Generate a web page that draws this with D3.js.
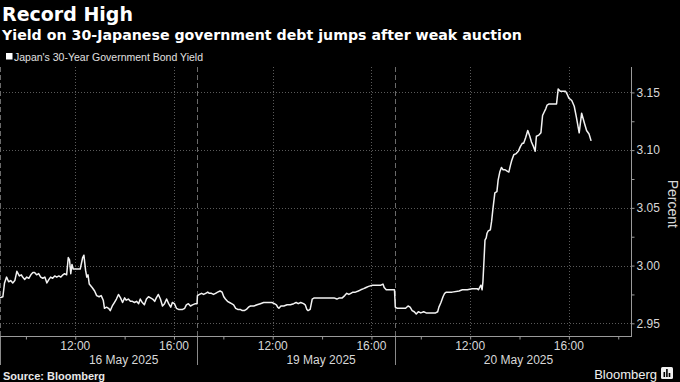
<!DOCTYPE html>
<html><head><meta charset="utf-8">
<script src="https://cdn.jsdelivr.net/npm/d3@7"></script>
<style>html,body{margin:0;padding:0;background:#000}svg{display:block}</style>
</head><body>
<svg id="chart" width="680" height="382"></svg>
<script>
// ---------- DATA ----------
const dayLabels = ["16 May 2025", "19 May 2025", "20 May 2025"];
const yTickValues = [2.95, 3.00, 3.05, 3.10, 3.15];
const yMinorValues = [2.975, 3.025, 3.075, 3.125];
const xMajorTimes = ["12:00", "16:00"];
const xMinorTimes = ["10:00", "14:00", "18:00"];

const day1Times = ["8:57","9:04","9:08","9:13","9:18","9:23","9:28","9:33","9:38","9:41","9:44","9:49","9:52","9:57","10:02","10:07","10:12","10:17","10:21","10:26","10:31","10:36","10:41","10:46","10:51","10:56","11:00","11:05","11:10","11:15","11:20","11:25","11:30","11:34","11:39","11:43","11:46","11:49","11:52","11:55","12:12","12:18","12:21","12:25","12:28","12:31","12:34","12:41","12:47","12:52","12:58","13:03","13:08","13:11","13:16","13:21","13:25","13:30","13:35","13:40","13:45","13:50","13:55","14:00","14:04","14:09","14:14","14:19","14:24","14:29","14:34","14:38","14:43","14:48","14:53","14:58","15:03","15:08","15:13","15:17","15:22","15:27","15:32","15:37","15:42","15:47","15:52","15:56","16:01","16:06","16:11","16:16","16:21","16:26","16:30","16:35","16:40","16:45","16:52","16:56"];
const day1Yields = [2.972,2.973,2.985,2.990,2.986,2.987,2.985,2.987,2.995,2.993,2.991,2.992,2.990,2.988,2.990,2.989,2.992,2.994,2.994,2.992,2.993,2.990,2.989,2.990,2.985,2.988,2.990,2.989,2.991,2.990,2.991,2.990,2.992,2.993,2.992,3.007,3.005,2.993,3.001,2.997,2.997,3.007,3.009,2.996,2.990,2.992,2.984,2.981,2.978,2.974,2.973,2.974,2.970,2.963,2.964,2.963,2.961,2.965,2.968,2.971,2.975,2.972,2.968,2.972,2.970,2.971,2.969,2.969,2.968,2.969,2.967,2.971,2.968,2.966,2.971,2.973,2.972,2.971,2.969,2.972,2.975,2.971,2.965,2.967,2.971,2.967,2.964,2.968,2.967,2.963,2.962,2.962,2.962,2.963,2.966,2.967,2.965,2.966,2.967,2.967];

const day2Times = ["8:57","9:02","9:07","9:12","9:17","9:22","9:26","9:31","9:36","9:41","9:46","9:52","9:57","10:01","10:05","10:10","10:15","10:20","10:25","10:30","10:35","10:41","10:46","10:51","10:56","11:01","11:06","11:14","11:22","11:30","11:38","11:58","12:04","12:09","12:12","12:15","12:20","12:27","12:35","12:43","12:51","12:57","13:02","13:08","13:15","13:19","13:23","13:26","13:31","13:36","13:41","14:16","14:23","14:29","14:36","14:42","14:49","14:55","15:00","15:05","15:10","15:15","15:21","15:28","15:34","15:41","15:47","15:53","16:03","16:13","16:23","16:28","16:31","16:36","16:42","16:50","16:56"];
const day2Yields = [2.974,2.975,2.976,2.975,2.976,2.977,2.976,2.976,2.975,2.976,2.977,2.978,2.977,2.973,2.971,2.969,2.968,2.967,2.966,2.963,2.962,2.962,2.961,2.961,2.962,2.964,2.965,2.965,2.966,2.967,2.968,2.968,2.967,2.966,2.964,2.963,2.965,2.965,2.966,2.966,2.967,2.968,2.967,2.968,2.967,2.966,2.962,2.961,2.962,2.971,2.972,2.972,2.972,2.972,2.971,2.972,2.972,2.974,2.976,2.975,2.976,2.977,2.977,2.978,2.979,2.980,2.981,2.982,2.983,2.983,2.983,2.984,2.981,2.979,2.979,2.979,2.979];

const day3Times = ["8:58","9:03","9:10","9:16","9:23","9:29","9:34","9:39","9:44","9:49","9:54","10:00","10:07","10:13","10:20","10:28","10:36","10:41","10:44","10:49","10:54","10:58","11:02","11:16","11:33","11:41","11:53","12:05","12:17","12:20","12:23","12:26","12:29","12:31","12:34","12:36","12:39","12:41","12:44","12:49","12:52","12:55","13:00","13:05","13:08","13:12","13:16","13:20","13:25","13:29","13:34","13:38","13:41","13:46","13:52","13:57","14:02","14:07","14:10","14:15","14:20","14:25","14:29","14:34","14:38","14:41","14:47","14:52","14:56","15:00","15:04","15:07","15:12","15:30","15:34","15:39","15:44","15:52","15:55","16:00","16:07","16:13","16:18","16:25","16:31","16:38","16:43","16:49","16:54"];
const day3Yields = [2.964,2.963,2.963,2.963,2.963,2.965,2.964,2.961,2.960,2.958,2.960,2.959,2.960,2.959,2.959,2.959,2.959,2.960,2.964,2.968,2.973,2.976,2.977,2.977,2.978,2.979,2.979,2.980,2.980,2.979,2.981,2.983,2.979,2.986,3.007,3.022,3.024,3.028,3.030,3.031,3.038,3.048,3.063,3.064,3.074,3.081,3.085,3.083,3.083,3.082,3.081,3.087,3.091,3.096,3.097,3.099,3.103,3.106,3.106,3.111,3.117,3.112,3.107,3.103,3.099,3.112,3.113,3.115,3.130,3.133,3.136,3.139,3.140,3.140,3.153,3.151,3.151,3.151,3.149,3.145,3.143,3.138,3.129,3.115,3.132,3.123,3.117,3.114,3.108];

// ---------- LAYOUT ----------
const W = 680, H = 382;
const plot = {left: 0, right: 631, top: 67, bottom: 336};
const sessionStart = "8:57", sessionMinutes = 480, lastDayEnd = "18:31";

const toMin = s => { const [h, m] = s.split(":").map(Number); return h * 60 + m; };
const offset = (dayIdx, t) => dayIdx * sessionMinutes + toMin(t) - toMin(sessionStart);

const series = [];
[[day1Times, day1Yields], [day2Times, day2Yields], [day3Times, day3Yields]].forEach(([ts, ys], d) => {
  ts.forEach((t, i) => series.push({o: offset(d, t), v: ys[i]}));
});

const x = d3.scaleLinear()
  .domain([0, offset(dayLabels.length - 1, lastDayEnd)])
  .range([plot.left, plot.right]);
const y = d3.scaleLinear().domain([2.939, 3.172]).range([plot.bottom, plot.top]);

const svg = d3.select("#chart");
svg.append("rect").attr("width", W).attr("height", H).attr("fill", "#000");

const sans = "'Liberation Sans', Arial, sans-serif";
const gridColor = "#5a5a5a";

// Titles
svg.append("text").attr("x", 2).attr("y", 21)
  .attr("font-family", "'DejaVu Sans', sans-serif").attr("font-weight", "bold")
  .attr("font-size", 19).attr("fill", "#fff").text("Record High");
svg.append("text").attr("x", 2).attr("y", 40)
  .attr("font-family", "'DejaVu Sans', sans-serif").attr("font-weight", "bold")
  .attr("font-size", 14.2).attr("fill", "#fff")
  .text("Yield on 30-Japanese government debt jumps after weak auction");

// Legend
svg.append("rect").attr("x", 6).attr("y", 53).attr("width", 6.5).attr("height", 6.5).attr("fill", "#fff");
svg.append("text").attr("x", 14).attr("y", 60.5)
  .attr("font-family", sans).attr("font-size", 10.5).attr("fill", "#e0e0e0")
  .text("Japan's 30-Year Government Bond Yield");

// Horizontal gridlines
svg.append("g").selectAll("line").data(yTickValues).join("line")
  .attr("x1", plot.left).attr("x2", plot.right)
  .attr("y1", d => Math.round(y(d)) + 0.5).attr("y2", d => Math.round(y(d)) + 0.5)
  .attr("stroke", gridColor).attr("stroke-width", 1).attr("stroke-dasharray", "1,2");

// Vertical gridlines at 12:00/16:00
const majorOffsets = [];
dayLabels.forEach((_, d) => xMajorTimes.forEach(t => majorOffsets.push(offset(d, t))));
const minorOffsets = [];
dayLabels.forEach((_, d) => xMinorTimes.forEach(t => {
  const o = offset(d, t);
  if (o <= x.domain()[1] && (d === dayLabels.length - 1 || o < (d + 1) * sessionMinutes)) minorOffsets.push(o);
}));
svg.append("g").selectAll("line").data(majorOffsets).join("line")
  .attr("x1", d => Math.round(x(d)) + 0.5).attr("x2", d => Math.round(x(d)) + 0.5)
  .attr("y1", plot.top).attr("y2", plot.bottom)
  .attr("stroke", gridColor).attr("stroke-width", 1).attr("stroke-dasharray", "1,2");

// Day separators (dashed in plot, solid below axis)
const dayOffsets = dayLabels.map((_, d) => d * sessionMinutes);
const sep = svg.append("g");
sep.selectAll("line.in").data(dayOffsets).join("line").attr("class", "in")
  .attr("x1", d => Math.round(x(d)) + 0.5).attr("x2", d => Math.round(x(d)) + 0.5)
  .attr("y1", plot.top).attr("y2", plot.bottom)
  .attr("stroke", "#6a6a6a").attr("stroke-width", 1).attr("stroke-dasharray", "5,3");
sep.selectAll("line.out").data(dayOffsets).join("line").attr("class", "out")
  .attr("x1", d => Math.round(x(d)) + 0.5).attr("x2", d => Math.round(x(d)) + 0.5)
  .attr("y1", plot.bottom).attr("y2", 365)
  .attr("stroke", "#8a8a8a").attr("stroke-width", 1);

// X axis
const xAxisG = svg.append("g").attr("transform", `translate(0,${plot.bottom + 0.5})`);
xAxisG.call(d3.axisBottom(x).tickValues(majorOffsets.concat(minorOffsets)).tickSize(3).tickFormat(() => ""));
xAxisG.select(".domain").attr("stroke", "#9a9a9a").attr("d", `M${plot.left},0H${plot.right + 0.5}`);
xAxisG.selectAll(".tick line").attr("stroke", "#9a9a9a");

// time labels
svg.append("g").selectAll("text").data(majorOffsets).join("text")
  .attr("x", d => x(d)).attr("y", 350)
  .attr("text-anchor", "middle").attr("font-family", sans).attr("font-size", 12).attr("fill", "#d8d8d8")
  .text(d => { const m = (d % sessionMinutes) + toMin(sessionStart); return d3.format("02")(Math.floor(m / 60)) + ":" + d3.format("02")(m % 60); });
// date labels centered under each day's 12:00–16:00 span
svg.append("g").selectAll("text").data(dayLabels).join("text")
  .attr("x", (d, i) => (x(offset(i, "12:00")) + x(offset(i, "16:00"))) / 2 - 1)
  .attr("y", 364)
  .attr("text-anchor", "middle").attr("font-family", sans).attr("font-size", 12).attr("fill", "#d8d8d8")
  .text(d => d);

// Y axis
const yAxisG = svg.append("g").attr("transform", `translate(${plot.right + 0.5},0)`);
yAxisG.call(d3.axisRight(y).tickValues(yTickValues).tickSize(3).tickPadding(2).tickFormat(d3.format(".2f")));
yAxisG.select(".domain").attr("stroke", "#9a9a9a").attr("d", `M0,${plot.top}V${plot.bottom + 1}`);
yAxisG.selectAll(".tick line").attr("stroke", "#9a9a9a");
yAxisG.selectAll(".tick text").attr("font-family", sans).attr("font-size", 12).attr("fill", "#d8d8d8");
const yMinorG = svg.append("g").attr("transform", `translate(${plot.right + 0.5},0)`);
yMinorG.call(d3.axisRight(y).tickValues(yMinorValues).tickSize(3).tickFormat(() => ""));
yMinorG.select(".domain").remove();
yMinorG.selectAll(".tick line").attr("stroke", "#9a9a9a");

svg.append("text")
  .attr("transform", `translate(668,${(y(3.10) + y(3.00)) / 2 - 4}) rotate(90)`)
  .attr("text-anchor", "middle").attr("font-family", sans).attr("font-size", 14).attr("fill", "#d8d8d8")
  .text("Percent");

// Line
svg.append("path").datum(series)
  .attr("fill", "none").attr("stroke", "#f2f2f2").attr("stroke-width", 1.5)
  .attr("stroke-linejoin", "round")
  .attr("d", d3.line().x(d => x(d.o)).y(d => y(d.v)));

// Footer
svg.append("text").attr("x", 3).attr("y", 380)
  .attr("font-family", sans).attr("font-weight", "bold").attr("font-size", 11).attr("fill", "#e8e8e8")
  .text("Source: Bloomberg");
svg.append("text").attr("x", 657).attr("y", 379).attr("text-anchor", "end")
  .attr("font-family", sans).attr("font-size", 13).attr("fill", "#f0f0f0")
  .text("Bloomberg");
const icon = svg.append("g").attr("transform", "translate(661,367)");
icon.append("rect").attr("width", 12).attr("height", 12).attr("rx", 1.5).attr("fill", "#f0f0f0");
icon.selectAll("rect.bar").data([5, 8, 4]).join("rect").attr("class", "bar")
  .attr("x", (d, i) => 2.5 + i * 2.6).attr("y", d => 10 - d).attr("width", 1.6).attr("height", d => d).attr("fill", "#000");
</script>
</body></html>
